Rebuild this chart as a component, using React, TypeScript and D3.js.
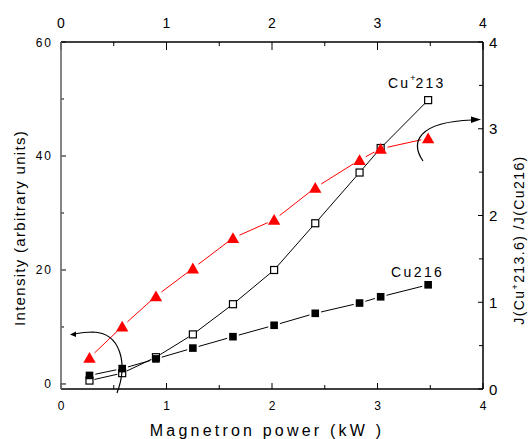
import React from "react";
import * as d3 from "d3";

// values
const powerKW = [0.27, 0.58, 0.9, 1.25, 1.63, 2.02, 2.41, 2.83, 3.03, 3.48];
const cu213 = [0.6, 1.9, 4.7, 8.7, 14.0, 20.0, 28.2, 37.1, 41.4, 49.8];
const cu216 = [1.5, 2.7, 4.4, 6.3, 8.3, 10.3, 12.4, 14.2, 15.3, 17.4];
const ratio = [0.36, 0.72, 1.07, 1.39, 1.74, 1.95, 2.32, 2.64, 2.77, 2.89];

const xTicks = [0, 1, 2, 3, 4];
const xMinor = [0.5, 1.5, 2.5, 3.5];
const leftTicks = [0, 20, 40, 60];
const leftMinor = [10, 30, 50];
const rightTicks = [0, 1, 2, 3, 4];
const rightMinor = [0.5, 1.5, 2.5, 3.5];

const font = "'Liberation Sans', Arial, sans-serif";

// plot frame
const left = 61;
const right = 483;
const top = 42;
const bottom = 389;

const x = d3.scaleLinear().domain([0, 4]).range([left, right]);
const yL = d3.scaleLinear().domain([-0.88, 60]).range([bottom, top]);
const yR = d3.scaleLinear().domain([0, 4]).range([bottom, top]);

// line pieces that stop short of the markers
const gapped = (pts: [number, number][], gap: number) => {
  const segs: [number, number, number, number][] = [];
  for (let i = 0; i < pts.length - 1; i++) {
    const [x1, y1] = pts[i];
    const [x2, y2] = pts[i + 1];
    const len = Math.hypot(x2 - x1, y2 - y1);
    if (len <= gap * 2 + 1) continue;
    const ux = (x2 - x1) / len;
    const uy = (y2 - y1) / len;
    segs.push([x1 + ux * gap, y1 + uy * gap, x2 - ux * gap, y2 - uy * gap]);
  }
  return segs;
};

const App = () => {
  const p213 = powerKW.map((d, i) => [x(d), yL(cu213[i])] as [number, number]);
  const p216 = powerKW.map((d, i) => [x(d), yL(cu216[i])] as [number, number]);
  const pRat = powerKW.map((d, i) => [x(d), yR(ratio[i])] as [number, number]);

  return (
    <svg
      width={528}
      height={439}
      style={{ position: "absolute", left: 0, top: 0, background: "#fff" }}
      fontFamily={font}
    >
      {/* ticks */}
      <g stroke="#000" strokeWidth={1}>
        {xTicks.map((t) => (
          <g key={"xt" + t}>
            <line x1={x(t)} x2={x(t)} y1={top} y2={top + 8} />
            <line x1={x(t)} x2={x(t)} y1={bottom} y2={bottom - 6} />
          </g>
        ))}
        {xMinor.map((t) => (
          <g key={"xm" + t}>
            <line x1={x(t)} x2={x(t)} y1={top} y2={top + 4} />
            <line x1={x(t)} x2={x(t)} y1={bottom} y2={bottom - 4} />
          </g>
        ))}
        {leftTicks.map((t) => (
          <line key={"lt" + t} x1={left} x2={left + 5} y1={yL(t)} y2={yL(t)} />
        ))}
        {leftMinor.map((t) => (
          <line key={"lm" + t} x1={left} x2={left + 3} y1={yL(t)} y2={yL(t)} />
        ))}
        {rightTicks.map((t) => (
          <line key={"rt" + t} x1={right} x2={right - 5} y1={yR(t)} y2={yR(t)} />
        ))}
        {rightMinor.map((t) => (
          <line key={"rm" + t} x1={right} x2={right - 4} y1={yR(t)} y2={yR(t)} />
        ))}
      </g>

      {/* frame */}
      <line x1={left} x2={right} y1={top} y2={top} stroke="#000" strokeWidth={1.5} />
      <line x1={left} x2={right} y1={bottom} y2={bottom} stroke="#000" strokeWidth={1.5} />
      <line x1={left} x2={left} y1={top} y2={bottom} stroke="#666" strokeWidth={1.6} />
      <line x1={right} x2={right} y1={top} y2={bottom} stroke="#000" strokeWidth={1.5} />

      {/* tick labels */}
      {xTicks.map((t) => (
        <text key={"tl" + t} x={x(t)} y={28} fontSize={14} textAnchor="middle">
          {t}
        </text>
      ))}
      {xTicks.map((t) => (
        <text key={"bl" + t} x={x(t)} y={410} fontSize={12} textAnchor="middle">
          {t}
        </text>
      ))}
      {leftTicks.map((t) => (
        <text
          key={"ll" + t}
          x={53}
          y={yL(t) + 4.5}
          fontSize={12}
          letterSpacing={2}
          textAnchor="end"
        >
          {t}
        </text>
      ))}
      {rightTicks.map((t) => (
        <text key={"rl" + t} x={489} y={yR(t) + 5.5} fontSize={15}>
          {t}
        </text>
      ))}

      {/* axis titles */}
      <text
        x={267}
        y={436}
        fontSize={16}
        letterSpacing={3.2}
        textAnchor="middle"
      >
        Magnetron power (kW )
      </text>
      <text
        transform="translate(25,228) rotate(-90)"
        fontSize={15}
        letterSpacing={1.3}
        textAnchor="middle"
      >
        Intensity (arbitrary units)
      </text>
      <text
        transform="translate(524,240) rotate(-90)"
        fontSize={14}
        letterSpacing={1.4}
        textAnchor="middle"
      >
        J(Cu
        <tspan dy={-6} fontSize={9}>+</tspan>
        <tspan dy={6}>213.6) /J(Cu216)</tspan>
      </text>

      {/* connecting lines */}
      <g stroke="#000" strokeWidth={1}>
        {gapped(p213, 5).map((s, i) => (
          <line key={"a" + i} x1={s[0]} y1={s[1]} x2={s[2]} y2={s[3]} />
        ))}
        {gapped(p216, 6).map((s, i) => (
          <line key={"b" + i} x1={s[0]} y1={s[1]} x2={s[2]} y2={s[3]} />
        ))}
      </g>
      <g stroke="#ff0000" strokeWidth={1}>
        {gapped(pRat, 7).map((s, i) => (
          <line key={"c" + i} x1={s[0]} y1={s[1]} x2={s[2]} y2={s[3]} />
        ))}
      </g>

      {/* markers */}
      {p213.map(([px, py], i) => (
        <rect
          key={"o" + i}
          x={px - 3.5}
          y={py - 3.5}
          width={7}
          height={7}
          fill="#fff"
          stroke="#000"
          strokeWidth={1.2}
        />
      ))}
      {p216.map(([px, py], i) => (
        <rect key={"f" + i} x={px - 3.8} y={py - 3.8} width={7.6} height={7.6} fill="#000" />
      ))}
      {pRat.map(([px, py], i) => (
        <path
          key={"t" + i}
          transform={`translate(${px},${py})`}
          d="M0,-5.8L6.2,5L-6.2,5Z"
          fill="#ff0000"
        />
      ))}

      {/* series labels */}
      <text x={388} y={88} fontSize={14} letterSpacing={2.2}>
        Cu
        <tspan dy={-7} fontSize={9} letterSpacing={0}>+</tspan>
        <tspan dy={7}>213</tspan>
      </text>
      <text x={391} y={277} fontSize={14} letterSpacing={2.4}>
        Cu216
      </text>

      {/* annotation arrows */}
      <path
        d="M117,393 C128,364 121,333 93,332 C85,332 79,333 74,334"
        fill="none"
        stroke="#000"
        strokeWidth={1.2}
      />
      <path d="M70,334.5 L76,331.5 L76,337 Z" fill="#000" />
      <path
        d="M423,161 C410,142 418,122 472,120"
        fill="none"
        stroke="#000"
        strokeWidth={1.2}
      />
      <path d="M481,119.5 L471,116.5 L471,123 Z" fill="#000" />
    </svg>
  );
};

export default App;
